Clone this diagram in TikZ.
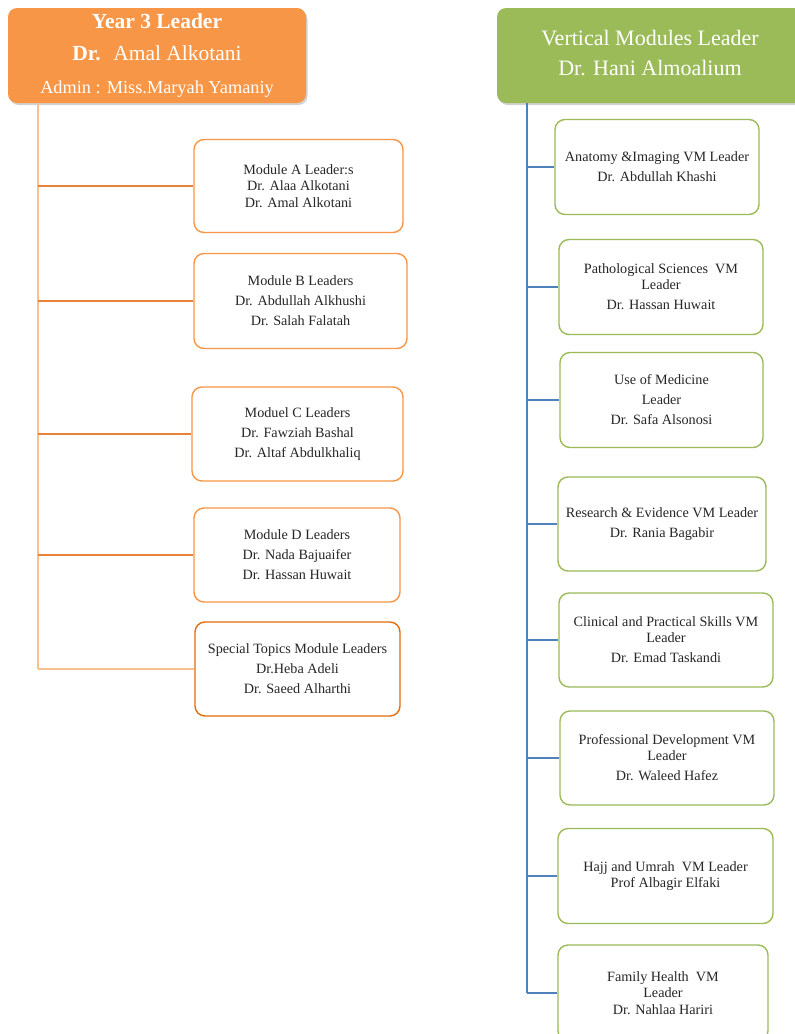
\documentclass[tikz,border=0pt]{standalone}
\usepackage{fontspec}
\setmainfont{Liberation Serif}
\usetikzlibrary{shadows}
\definecolor{hdorange}{HTML}{F79646}
\definecolor{hdgreen}{HTML}{9BBB59}
\definecolor{bxorange}{HTML}{F79646}
\definecolor{bxdark}{HTML}{E46C0A}
\definecolor{lnorange}{HTML}{E8813A}
\definecolor{lnlight}{HTML}{FAC08F}
\definecolor{lnblue}{HTML}{4F81BD}
\definecolor{txt}{HTML}{262626}
\tikzset{
  header/.style={rounded corners=9pt, inner sep=0pt, text=white, align=center,
    drop shadow={shadow xshift=1.5pt, shadow yshift=-2pt, opacity=0.35}},
  obox/.style={draw=bxorange, line width=1.4pt, rounded corners=10pt, fill=white,
    inner sep=0pt, align=center, text=txt, font=\fontsize{14.2}{20}\selectfont},
  gbox/.style={draw=hdgreen, line width=1.4pt, rounded corners=10pt, fill=white,
    inner sep=0pt, align=center, text=txt, font=\fontsize{14.2}{20}\selectfont},
  sz/.style 2 args={minimum width=#1pt, minimum height=#2pt},
  olink/.style={draw=lnorange, line width=1.5pt},
  llink/.style={draw=lnlight, line width=1.5pt},
  blink/.style={draw=lnblue, line width=1.5pt},
}
\begin{document}
\begin{tikzpicture}[x=1pt,y=-1pt]
\clip (0,0) rectangle (795,1034);
\fill[white] (0,0) rectangle (795,1034);
\coordinate (tl) at (38,0);
\coordinate (tr) at (527,0);
% headers
\node[header, fill=hdorange, sz={298}{95}, font=\fontsize{21.5}{32.5}\selectfont] (L) at (157,55.5)
 {\textbf{Year 3 Leader}\\ \textbf{Dr.}~ Amal Alkotani\\ {\fontsize{18.3}{32.5}\selectfont Admin : Miss.Maryah Yamaniy}};
\node[header, fill=hdgreen, sz={326}{95}] (R) at (660,55.5) {};
\node[text=white, font=\fontsize{22}{30}\selectfont, align=center] (Rt) at (650,53)
 {Vertical Modules Leader\\ Dr. Hani Almoalium};
% left boxes
\node[obox, sz={209}{93}, font=\fontsize{14.2}{16.5}\selectfont] (A) at (298.5,186)
 {Module A Leader:s\\ Dr. Alaa Alkotani\\ Dr. Amal Alkotani};
\node[obox, sz={213}{95}] (B) at (300.5,301)
 {Module B Leaders\\ Dr. Abdullah Alkhushi\\ Dr. Salah Falatah};
\node[obox, sz={211}{94}] (C) at (297.5,434)
 {Moduel C Leaders\\ Dr. Fawziah Bashal\\ Dr. Altaf Abdulkhaliq};
\node[obox, sz={206}{94}] (D) at (297,555)
 {Module D Leaders\\ Dr. Nada Bajuaifer\\ Dr. Hassan Huwait};
\node[obox, draw=bxdark, sz={205}{94}] (S) at (297.5,669)
 {Special Topics Module Leaders\\ Dr.Heba Adeli\\ Dr. Saeed Alharthi};
% right boxes
\node[gbox, sz={204}{95}] (V1) at (657,167)
 {Anatomy \&Imaging VM Leader\\ Dr. Abdullah Khashi};
\node[gbox, sz={204}{95}] (V2) at (661,287)
 {Pathological Sciences\ \ VM\\[-4pt] Leader\\ Dr. Hassan Huwait};
\node[gbox, sz={203}{95}] (V3) at (661.5,400)
 {Use of Medicine\\ Leader\\ Dr. Safa Alsonosi};
\node[gbox, sz={208}{94}] (V4) at (662,524)
 {Research \&\ Evidence VM Leader\\ Dr. Rania Bagabir};
\node[gbox, sz={214}{94}] (V5) at (666,640)
 {Clinical and\ Practical Skills VM\\[-4pt] Leader\\ Dr. Emad Taskandi};
\node[gbox, sz={214}{94}] (V6) at (667,758)
 {Professional Development VM\\[-4pt] Leader\\ Dr. Waleed Hafez};
\node[gbox, sz={215}{95}, font=\fontsize{14.2}{16.5}\selectfont] (V7) at (665.5,876)
 {Hajj and Umrah\ \ VM Leader\\ Prof Albagir Elfaki};
\node[gbox, sz={210}{96}, font=\fontsize{14.2}{16.5}\selectfont] (V8) at (663,993)
 {Family Health\ \ VM\\ Leader\\ Dr. Nahlaa Hariri};
% left connectors
\draw[llink] (L.south -| tl) -- (tl |- S.west);
\draw[olink] (tl |- A.west) -- (A.west);
\draw[olink] (tl |- B.west) -- (B.west);
\draw[olink] (tl |- C.west) -- (C.west);
\draw[olink] (tl |- D.west) -- (D.west);
\draw[llink] (tl |- S.west) -- (S.west);
% right connectors
\draw[blink] (R.south -| tr) -- (tr |- V8.west);
\foreach \n in {V1,V2,V3,V4,V5,V6,V7,V8}
  \draw[blink] (tr |- \n.west) -- (\n.west);
\end{tikzpicture}
\end{document}
